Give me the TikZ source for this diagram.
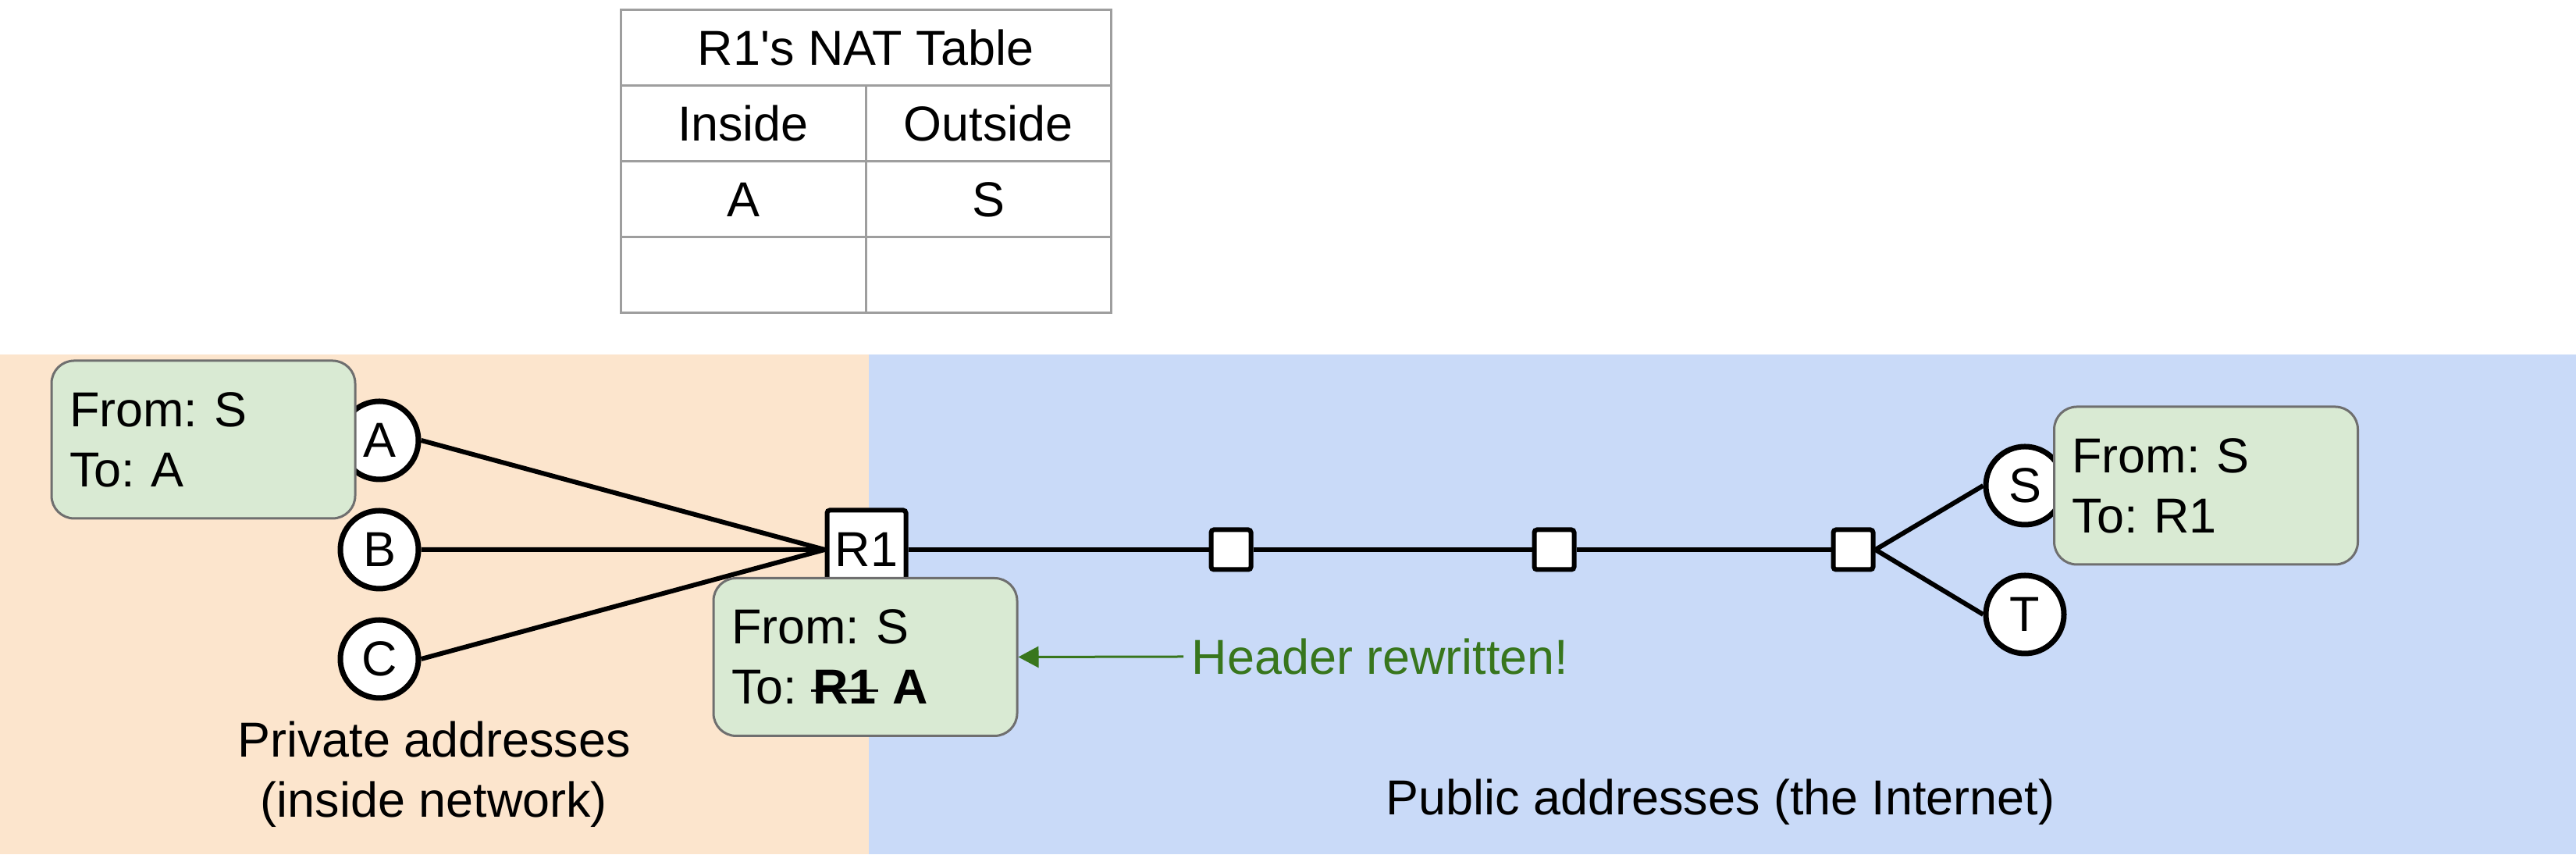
\documentclass[tikz,border=0pt]{standalone}
\usepackage{fontspec}
\setmainfont{Liberation Sans}
\usetikzlibrary{arrows.meta,positioning}

\definecolor{insidebg}{HTML}{FCE5CD}
\definecolor{outsidebg}{HTML}{C9DAF8}
\definecolor{pktgreen}{HTML}{D9EAD3}
\definecolor{boxgray}{HTML}{6F6F6F}
\definecolor{tablegray}{HTML}{9E9E9E}
\definecolor{notegreen}{HTML}{38761D}

\newcommand{\strikeaddr}[1]{\setbox0\hbox{#1}\rlap{\kern-0.05em\rule[0.25em]{\dimexpr\wd0+0.1em}{0.05em}}\box0\relax}
\frenchspacing

\begin{document}
\begin{tikzpicture}[
  font=\fontsize{17.9}{21.9}\selectfont,
  cell/.style={draw=tablegray, line width=0.03cm, minimum width=3.14cm, minimum height=0.97cm, inner sep=0pt, outer sep=0pt},
  host/.style={circle, draw, line width=0.07cm, fill=white, minimum size=1cm, inner sep=0pt},
  router/.style={draw, line width=0.06cm, fill=white, minimum size=0.51cm, inner sep=0pt, rounded corners=1pt},
  packet/.style={draw=boxgray, line width=0.03cm, fill=pktgreen, rounded corners=0.29cm, text width=3.43cm, inner xsep=0.23cm, minimum height=2.02cm, align=left},
  link/.style={line width=0.06cm},
  note/.style={align=center},
  notearr/.style={-{Triangle[length=0.26cm, width=0.27cm]}, line width=0.03cm, draw=notegreen}
]
\useasboundingbox (0,0) rectangle (33,11.04);
\fill[insidebg] (0,0.10) rectangle (11.13,6.50);
\fill[outsidebg] (11.13,0.10) rectangle (33,6.50);

\node[cell, minimum width=6.28cm] (title) at (11.09,10.425) {R1\textquotesingle s NAT Table};
\node[cell, anchor=north west] (inside) at (title.south west) {Inside};
\node[cell, anchor=north east] (outside) at (title.south east) {Outside};
\node[cell, anchor=north] (inA) at (inside.south) {A};
\node[cell, anchor=north] (outS) at (outside.south) {S};
\node[cell, anchor=north] (inEmpty) at (inA.south) {};
\node[cell, anchor=north] (outEmpty) at (outS.south) {};

\node[host] (A) at (4.86,5.40) {A};
\node[host, below=0.33cm of A] (B) {B};
\node[host, below=0.33cm of B] (C) {C};

\node[router, minimum size=1.01cm] (R1) at (11.10,4.00) {R1};
\node[router] (r2) at (15.77,4.00) {};
\node[router] (r3) at (19.91,4.00) {};
\node[router] (r4) at (23.74,4.00) {};

\node[host] (S) at (25.94,4.82) {S};
\node[host] (T) at (25.94,3.17) {T};

\draw[link] (A.east) -- (R1.west);
\draw[link] (B.east) -- (R1.west);
\draw[link] (C.east) -- (R1.west);
\draw[link] (R1.east) -- (r2.west);
\draw[link] (r2.east) -- (r3.west);
\draw[link] (r3.east) -- (r4.west);
\draw[link] (r4.east) -- (S.west);
\draw[link] (r4.east) -- (T.west);

\node[packet] (pktA) at (2.605,5.41) {From: S\\To: A};
\node[packet] (pktR1) at (11.085,2.625) {From: S\\To: \textbf{\strikeaddr{R1} A}};
\node[packet] (pktS) at (28.26,4.82) {From: S\\To: R1};

\node[note, text=notegreen, anchor=west, inner sep=0.1cm] (rewritten) at (15.16,2.63) {Header rewritten!};
\draw[notearr] (rewritten.west) -- (pktR1.east);

\node[note] (private) at (5.56,1.12) {Private addresses\\(inside network)};
\node[note] (public) at (22.04,0.77) {Public addresses (the Internet)};

\end{tikzpicture}
\end{document}
